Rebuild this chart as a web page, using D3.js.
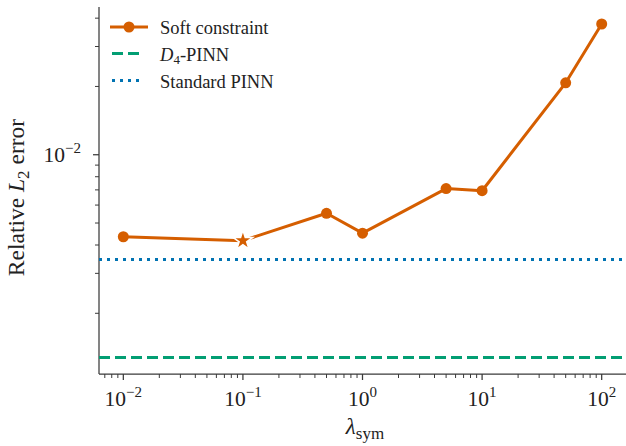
<!DOCTYPE html>
<html>
<head>
<meta charset="utf-8">
<script src="https://cdn.jsdelivr.net/npm/d3@7"></script>
<style>
  body { margin: 0; background: #fff; }
</style>
</head>
<body>
<div id="chart"></div>
<script>
// data
var lambdas = [0.01, 0.1, 0.5, 1, 5, 10, 50, 100];
var softErr = [4.35e-3, 4.18e-3, 5.52e-3, 4.51e-3, 7.09e-3, 6.94e-3, 2.075e-2, 3.77e-2];
var bestIndex = 1; // star marker
var d4Err = 1.28e-3;
var standardErr = 3.46e-3;
var xMajor = [-2, -1, 0, 1, 2];
var yMajor = [-2];
var legendLabels = ["Soft constraint", "D4-PINN", "Standard PINN"];

var W = 626, H = 446;
var margin = { top: 7, right: 0, bottom: 72, left: 99 };
var orange = "#d55e00", green = "#029e73", blue = "#0173b2";
var serif = "'Liberation Serif', 'Times New Roman', serif";

var svg = d3.select("#chart").append("svg")
    .attr("width", W).attr("height", H)
    .attr("font-family", serif);

var x = d3.scaleLog().domain([0.00626, 159.7]).range([margin.left, W - margin.right]);
var y = d3.scaleLog().domain([1.08e-3, 0.0448]).range([H - margin.bottom, margin.top]);

// minor tick values
function minors(scale) {
    var d = scale.domain(), out = [];
    for (var e = Math.floor(Math.log10(d[0])); e <= Math.ceil(Math.log10(d[1])); e++) {
        for (var m = 2; m <= 9; m++) {
            var v = m * Math.pow(10, e);
            if (v >= d[0] && v <= d[1]) out.push(v);
        }
    }
    return out;
}

var axisColor = "#3a3a3a";
var textColor = "#222";
var yBottom = H - margin.bottom;

// x axis
var gx = svg.append("g");
gx.append("line").attr("x1", margin.left).attr("x2", W).attr("y1", yBottom).attr("y2", yBottom)
    .attr("stroke", axisColor).attr("stroke-width", 1.25);
gx.selectAll(".xminor").data(minors(x)).enter().append("line")
    .attr("x1", d => x(d)).attr("x2", d => x(d)).attr("y1", yBottom).attr("y2", yBottom + 4)
    .attr("stroke", axisColor).attr("stroke-width", 1);
gx.selectAll(".xmajor").data(xMajor).enter().append("line")
    .attr("x1", d => x(Math.pow(10, d))).attr("x2", d => x(Math.pow(10, d)))
    .attr("y1", yBottom).attr("y2", yBottom + 6)
    .attr("stroke", axisColor).attr("stroke-width", 1.25);
var xl = gx.selectAll(".xlab").data(xMajor).enter().append("text")
    .attr("x", d => x(Math.pow(10, d))).attr("y", yBottom + 32)
    .attr("text-anchor", "middle").attr("font-size", 21.5).attr("fill", textColor);
xl.append("tspan").text("10");
xl.append("tspan").attr("dy", -9).attr("font-size", 15).text(d => d < 0 ? "\u2212" + (-d) : d);

// y axis
var gy = svg.append("g");
gy.append("line").attr("x1", margin.left).attr("x2", margin.left)
    .attr("y1", margin.top).attr("y2", yBottom)
    .attr("stroke", axisColor).attr("stroke-width", 1.25);
gy.selectAll(".yminor").data(minors(y)).enter().append("line")
    .attr("x1", margin.left - 4).attr("x2", margin.left).attr("y1", d => y(d)).attr("y2", d => y(d))
    .attr("stroke", axisColor).attr("stroke-width", 1);
gy.selectAll(".ymajor").data(yMajor).enter().append("line")
    .attr("x1", margin.left - 6).attr("x2", margin.left)
    .attr("y1", d => y(Math.pow(10, d))).attr("y2", d => y(Math.pow(10, d)))
    .attr("stroke", axisColor).attr("stroke-width", 1.25);
var yl = gy.selectAll(".ylab").data(yMajor).enter().append("text")
    .attr("x", margin.left - 18).attr("y", d => y(Math.pow(10, d)) + 7.5)
    .attr("text-anchor", "end").attr("font-size", 21.5).attr("fill", textColor);
yl.append("tspan").text("10");
yl.append("tspan").attr("dy", -9).attr("font-size", 15).text(d => d < 0 ? "\u2212" + (-d) : d);

// axis labels
var xt = svg.append("text").attr("x", 365).attr("y", 434).attr("text-anchor", "middle")
    .attr("font-size", 23).attr("fill", textColor);
xt.append("tspan").attr("font-style", "italic").text("\u03bb");
xt.append("tspan").attr("dy", 5).attr("font-size", 17).text("sym");

var yt = svg.append("text").attr("transform", "translate(24," + ((margin.top + yBottom) / 2 + 7) + ") rotate(-90)")
    .attr("text-anchor", "middle").attr("font-size", 23.5).attr("fill", textColor);
yt.append("tspan").text("Relative ");
yt.append("tspan").attr("font-style", "italic").text("L");
yt.append("tspan").attr("dy", 5).attr("font-size", 17).text("2");
yt.append("tspan").attr("dy", -5).text(" error");

// reference lines (snapped to pixel centres so the dots stay crisp)
var ys = Math.round(y(standardErr)) + 0.5;
var yd = Math.round(y(d4Err)) + 0.5;
svg.append("line").attr("x1", margin.left).attr("x2", W)
    .attr("y1", ys).attr("y2", ys)
    .attr("stroke", blue).attr("stroke-width", 3).attr("stroke-dasharray", "3,5");
svg.append("line").attr("x1", margin.left).attr("x2", W)
    .attr("y1", yd).attr("y2", yd)
    .attr("stroke", green).attr("stroke-width", 3).attr("stroke-dasharray", "11,5");

// soft constraint line
var pts = lambdas.map((l, i) => ({ l: l, e: softErr[i], i: i }));
var line = d3.line().x(d => x(d.l)).y(d => y(d.e));
svg.append("path").datum(pts).attr("d", line)
    .attr("fill", "none").attr("stroke", orange).attr("stroke-width", 3).attr("stroke-linejoin", "round");
svg.selectAll(".dot").data(pts.filter(d => d.i !== bestIndex)).enter().append("circle")
    .attr("cx", d => x(d.l)).attr("cy", d => y(d.e)).attr("r", 5.5).attr("fill", orange);
svg.selectAll(".star").data(pts.filter(d => d.i === bestIndex)).enter().append("path")
    .attr("d", d3.symbol().type(d3.symbolStar).size(120))
    .attr("transform", d => "translate(" + x(d.l) + "," + y(d.e) + ")")
    .attr("fill", orange).attr("stroke", "#fff").attr("stroke-width", 1.5);

// legend
var lg = svg.append("g");
var rows = [27, 53.5, 80.5];
lg.append("line").attr("x1", 110).attr("x2", 148).attr("y1", rows[0]).attr("y2", rows[0])
    .attr("stroke", orange).attr("stroke-width", 3);
lg.append("circle").attr("cx", 129).attr("cy", rows[0]).attr("r", 5.5).attr("fill", orange);
lg.append("line").attr("x1", 112).attr("x2", 144).attr("y1", rows[1]).attr("y2", rows[1])
    .attr("stroke", green).attr("stroke-width", 3).attr("stroke-dasharray", "11,5");
lg.append("line").attr("x1", 112).attr("x2", 144).attr("y1", rows[2]).attr("y2", rows[2])
    .attr("stroke", blue).attr("stroke-width", 3).attr("stroke-dasharray", "3,5");
lg.append("text").attr("x", 160).attr("y", rows[0] + 7).attr("font-size", 18.5).attr("fill", textColor).text(legendLabels[0]);
var l2 = lg.append("text").attr("x", 160).attr("y", rows[1] + 7).attr("font-size", 18.5).attr("fill", textColor);
l2.append("tspan").attr("font-style", "italic").text("D");
l2.append("tspan").attr("dy", 3).attr("font-size", 13).text("4");
l2.append("tspan").attr("dy", -3).text("-PINN");
lg.append("text").attr("x", 160).attr("y", rows[2] + 7).attr("font-size", 18.5).attr("fill", textColor).text(legendLabels[2]);
</script>
</body>
</html>
